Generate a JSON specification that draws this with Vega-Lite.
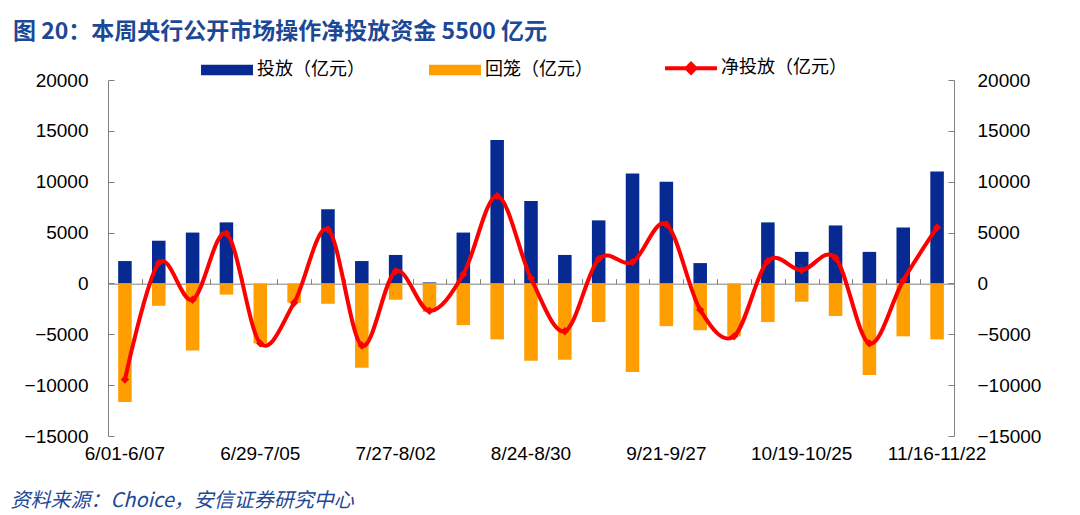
{
  "$schema": "https://vega.github.io/schema/vega-lite/v6.json",
  "width": 846,
  "height": 356,
  "autosize": "none",
  "padding": {"left": 108, "top": 80, "right": 126, "bottom": 79},
  "background": "white",
  "config": {
    "view": {"stroke": null},
    "font": "Liberation Sans, Noto Sans CJK SC",
    "axis": {"labelFont": "Liberation Sans, Noto Sans CJK SC", "labelColor": "#000000", "grid": false}
  },
  "title": {
    "text": "图 20：本周央行公开市场操作净投放资金 5500 亿元",
    "anchor": "start",
    "frame": "group",
    "orient": "top",
    "offset": 15,
    "dx": -95,
    "font": "Noto Sans CJK SC",
    "fontSize": 23,
    "fontWeight": "bold",
    "color": "#1C4896"
  },
  "data": {
    "values": [
      {"week": "6/01-6/07", "invest": 2200, "recover": -11650, "net": -9450},
      {"week": "6/08-6/14", "invest": 4200, "recover": -2200, "net": 2000},
      {"week": "6/15-6/21", "invest": 5000, "recover": -6600, "net": -1600},
      {"week": "6/22-6/28", "invest": 6000, "recover": -1100, "net": 4900},
      {"week": "6/29-7/05", "invest": 0, "recover": -5900, "net": -5900},
      {"week": "7/06-7/12", "invest": 0, "recover": -1900, "net": -1900},
      {"week": "7/13-7/19", "invest": 7300, "recover": -2000, "net": 5300},
      {"week": "7/20-7/26", "invest": 2200, "recover": -8300, "net": -6100},
      {"week": "7/27-8/02", "invest": 2800, "recover": -1600, "net": 1200},
      {"week": "8/03-8/09", "invest": 100, "recover": -2800, "net": -2700},
      {"week": "8/10-8/16", "invest": 5000, "recover": -4100, "net": 900},
      {"week": "8/17-8/23", "invest": 14100, "recover": -5500, "net": 8600},
      {"week": "8/24-8/30", "invest": 8100, "recover": -7600, "net": 500},
      {"week": "8/31-9/06", "invest": 2800, "recover": -7500, "net": -4700},
      {"week": "9/07-9/13", "invest": 6200, "recover": -3800, "net": 2400},
      {"week": "9/14-9/20", "invest": 10800, "recover": -8700, "net": 2100},
      {"week": "9/21-9/27", "invest": 10000, "recover": -4200, "net": 5800},
      {"week": "9/28-10/04", "invest": 2000, "recover": -4600, "net": -2600},
      {"week": "10/05-10/11", "invest": 0, "recover": -5200, "net": -5200},
      {"week": "10/12-10/18", "invest": 6000, "recover": -3800, "net": 2200},
      {"week": "10/19-10/25", "invest": 3100, "recover": -1800, "net": 1300},
      {"week": "10/26-11/01", "invest": 5700, "recover": -3200, "net": 2500},
      {"week": "11/02-11/08", "invest": 3100, "recover": -9000, "net": -5900},
      {"week": "11/09-11/15", "invest": 5500, "recover": -5200, "net": 300},
      {"week": "11/16-11/22", "invest": 11000, "recover": -5500, "net": 5500}
    ]
  },
  "resolve": {"axis": {"x": "independent", "y": "independent"}},
  "layer": [
    {
      "transform": [{"fold": ["invest", "recover"], "as": ["series", "value"]}],
      "mark": {"type": "bar", "width": {"band": 0.4}},
      "encoding": {
        "x": {
          "field": "week", "type": "nominal", "sort": null,
          "scale": {"paddingInner": 0, "paddingOuter": 0},
          "axis": {
            "orient": "bottom",
            "labelExpr": "indexof(['6/01-6/07', '6/29-7/05', '7/27-8/02', '8/24-8/30', '9/21-9/27', '10/19-10/25', '11/16-11/22'], datum.value) >= 0 ? datum.value : ''",
            "labelAngle": 0,
            "labelFontSize": 19,
            "labelPadding": 8,
            "labelOverlap": false,
            "labelBound": false,
            "labelFlush": false,
            "ticks": false,
            "domain": false,
            "title": "资料来源：Choice，安信证券研究中心",
            "titleFont": "Noto Sans CJK SC",
            "titleFontSize": 20,
            "titleFontStyle": "italic",
            "titleFontWeight": "normal",
            "titleColor": "#1C4896",
            "titleAnchor": "start",
            "titleAlign": "left",
            "titleX": -98,
            "titleY": 54
          }
        },
        "y": {
          "field": "value", "type": "quantitative",
          "scale": {"domain": [-15000, 20000], "nice": false},
          "axis": {
            "orient": "left",
            "values": [-15000, -10000, -5000, 0, 5000, 10000, 15000, 20000],
            "format": "d",
            "labelFontSize": 19,
            "tickSize": -6,
            "tickColor": "#808080",
            "domainColor": "#808080",
            "labelPadding": 26,
            "title": null
          }
        },
        "color": {
          "field": "series", "type": "nominal",
          "scale": {"domain": ["invest", "recover", "net"], "range": ["#062A91", "#FF9E00", "#FF0000"]},
          "legend": {
            "orient": "none",
            "direction": "horizontal",
            "legendX": 110,
            "legendY": -21,
            "title": null,
            "padding": 0,
            "symbolSize": 2700,
            "symbolType": "M-1,-0.2H1V0.2H-1Z",
            "labelFontSize": 18,
            "labelFont": "Noto Sans CJK SC",
            "labelColor": "#000000",
            "labelOffset": 21,
            "columnPadding": 64,
            "labelExpr": "datum.value === 'invest' ? '投放（亿元）' : datum.value === 'recover' ? '回笼（亿元）' : '净投放（亿元）'",
            "encode": {
              "symbols": {
                "update": {
                  "shape": {"signal": "datum.value === 'net' ? 'M-1,0H1M-0.17,0L0,-0.17L0.17,0L0,0.17Z' : 'M-1,-0.2H1V0.2H-1Z'"},
                  "stroke": {"signal": "datum.value === 'net' ? '#FF0000' : 'transparent'"},
                  "strokeWidth": {"signal": "datum.value === 'net' ? 4 : 0"},
                  "fill": {"signal": "datum.value === 'invest' ? '#062A91' : datum.value === 'recover' ? '#FF9E00' : '#FF0000'"},
                  "opacity": {"value": 1},
                  "fillOpacity": {"value": 1}
                }
              }
            }
          }
        }
      }
    },
    {
      "mark": {"type": "line", "interpolate": "cardinal", "strokeWidth": 4},
      "encoding": {
        "x": {
          "field": "week", "type": "nominal", "sort": null,
          "axis": {
            "orient": "top",
            "offset": -203.7,
            "labels": false,
            "tickBand": "extent",
            "tickSize": 5,
            "tickColor": "#808080",
            "domainColor": "#808080",
            "title": null
          }
        },
        "y": {
          "field": "net", "type": "quantitative",
          "axis": {
            "orient": "right",
            "values": [-15000, -10000, -5000, 0, 5000, 10000, 15000, 20000],
            "format": "d",
            "labelFontSize": 19,
            "tickSize": -6,
            "tickColor": "#808080",
            "domainColor": "#808080",
            "labelPadding": 29,
            "title": null
          }
        },
        "color": {"datum": "net", "type": "nominal"}
      }
    },
    {
      "mark": {"type": "point", "shape": "diamond", "filled": true, "size": 70, "opacity": 1, "color": "#FF0000"},
      "encoding": {
        "x": {"field": "week", "type": "nominal", "sort": null, "axis": null},
        "y": {"field": "net", "type": "quantitative", "axis": null}
      }
    }
  ]
}
